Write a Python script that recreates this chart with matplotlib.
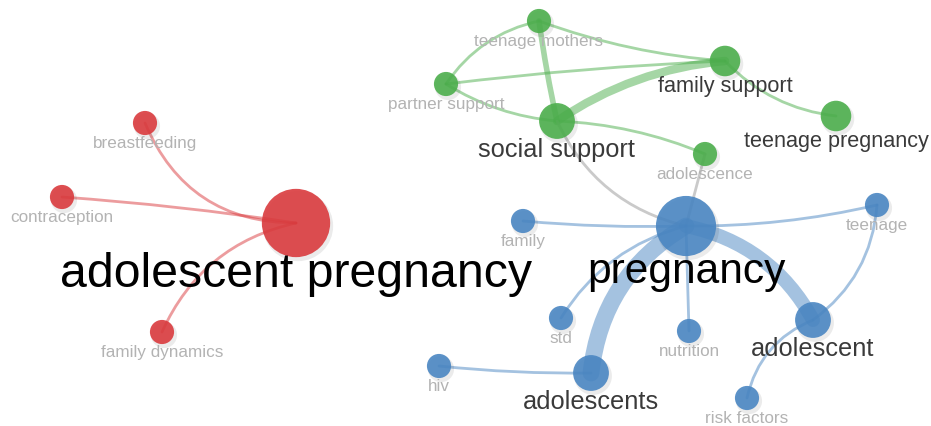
import numpy as np
import matplotlib.pyplot as plt
from matplotlib.path import Path
from matplotlib.patches import PathPatch, Circle

# keyword map: label, layout x, layout y, occurrences, cluster
labels = ["adolescent pregnancy", "breastfeeding", "contraception", "family dynamics",
          "teenage mothers", "partner support", "social support", "family support",
          "teenage pregnancy", "adolescence",
          "pregnancy", "family", "teenage", "std", "nutrition", "adolescent",
          "hiv", "adolescents", "risk factors"]
node_x = [296, 145, 62, 162,
          539, 446, 557, 725, 836, 705,
          686, 523, 877, 561, 689, 813, 439, 591, 747]
node_y = [224, 124, 198, 333,
          22, 85, 122, 62, 117, 155,
          227, 222, 206, 319, 332, 321, 367, 374, 399]
occurrences = [40, 5, 5, 5,
               5, 5, 11, 8, 8, 5,
               31, 5, 5, 5, 5, 11, 5, 11, 5]
cluster = [0, 0, 0, 0,
           1, 1, 1, 1, 1, 1,
           2, 2, 2, 2, 2, 2, 2, 2, 2]

# links: source, target, link strength
edges = [("adolescent pregnancy", "breastfeeding", 1),
         ("adolescent pregnancy", "contraception", 1),
         ("adolescent pregnancy", "family dynamics", 1),
         ("teenage mothers", "partner support", 1),
         ("teenage mothers", "family support", 1),
         ("teenage mothers", "social support", 2),
         ("partner support", "family support", 1),
         ("partner support", "social support", 1),
         ("social support", "family support", 3),
         ("social support", "adolescence", 1),
         ("family support", "teenage pregnancy", 1),
         ("social support", "pregnancy", 1),
         ("adolescence", "pregnancy", 1),
         ("pregnancy", "family", 1),
         ("pregnancy", "teenage", 1),
         ("pregnancy", "std", 1),
         ("pregnancy", "nutrition", 1),
         ("pregnancy", "adolescent", 5),
         ("pregnancy", "adolescents", 6),
         ("adolescents", "hiv", 1),
         ("adolescent", "teenage", 1),
         ("adolescent", "risk factors", 1)]
edge_bend = [-0.33, 0.02, 0.25, 0.2, 0.07, 0.02, -0.02, 0.12, -0.13, -0.09, 0.18,
             0.24, 0.0, -0.03, 0.06, 0.2, 0.0, -0.23, 0.25, -0.03, 0.23, 0.26]

colors = ["#da3b3e", "#4cae4c", "#4a86c2"]
idx = {name: i for i, name in enumerate(labels)}

fig = plt.figure(figsize=(9.31, 4.27), dpi=100)
ax = fig.add_axes([0, 0, 1, 1])
ax.set_xlim(0, 931)
ax.set_ylim(427, 0)
ax.axis("off")

px2pt = 72 / 100

# links
for (s, t, w), k in zip(edges, edge_bend):
    a, b = idx[s], idx[t]
    x0, y0, x1, y1 = node_x[a], node_y[a], node_x[b], node_y[b]
    dx, dy = x1 - x0, y1 - y0
    cx = (x0 + x1) / 2 - k * dy
    cy = (y0 + y1) / 2 + k * dx
    path = Path([(x0, y0), (cx, cy), (x1, y1)], [Path.MOVETO, Path.CURVE3, Path.CURVE3])
    if cluster[a] == cluster[b]:
        col, alpha = colors[cluster[a]], 0.5
    else:
        col, alpha = "#bdbdbd", 0.8
    ax.add_patch(PathPatch(path, fill=False, edgecolor=col, alpha=alpha,
                           lw=2.8 * w * px2pt, capstyle="round", zorder=1))

# nodes
for i in range(len(labels)):
    r = 5.4 * np.sqrt(occurrences[i])
    ax.add_patch(Circle((node_x[i] + 2, node_y[i] + 3), r + 1, color="#000000",
                        alpha=0.08, lw=0, zorder=2))
    ax.add_patch(Circle((node_x[i], node_y[i]), r, color=colors[cluster[i]],
                        alpha=0.9, lw=0, zorder=3))

# labels
for i in range(len(labels)):
    fs = 5.5 * np.sqrt(occurrences[i])
    fs_px = fs / px2pt
    if occurrences[i] <= 5:
        tc = "#b3b3b3"
    elif occurrences[i] < 20:
        tc = "#3a3a3a"
    else:
        tc = "#000000"
    ax.text(node_x[i], node_y[i] + 3 + 1.25 * fs_px, labels[i], ha="center",
            va="baseline", fontsize=fs, color=tc, family="Liberation Sans", zorder=4)

fig.savefig("out.png", dpi=100)
